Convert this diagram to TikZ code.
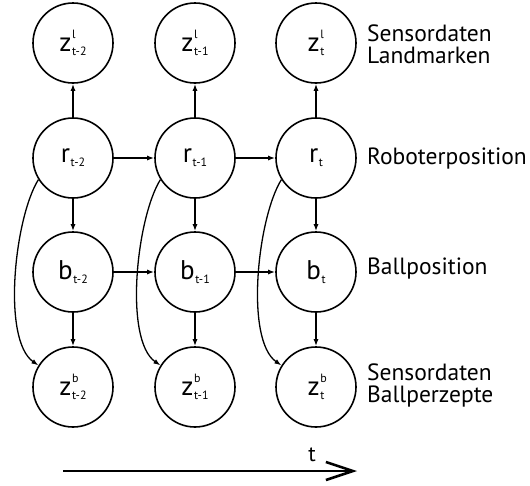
\documentclass[tikz,border=0pt]{standalone}
\usepackage{fontspec}
\setmainfont{PT Sans}
\usetikzlibrary{arrows.meta}
% small index font and a variable with raised/lowered indices
\newcommand\idxfont{\fontsize{12}{12}\selectfont}
\newcommand\nv[3]{#1\kern0.5pt\rlap{\raisebox{13pt}{\idxfont #2}}\raisebox{-4pt}{\idxfont #3}}
\begin{document}
\begin{tikzpicture}[x=1pt,y=1pt,
  var/.style={circle,draw,line width=1.6pt,minimum size=80pt,inner sep=0pt,
    font=\fontsize{27}{27}\selectfont},
  dep/.style={-{Latex[length=7pt,width=5pt]},line width=1.4pt},
  side/.style={-{Latex[length=7pt,width=5pt]},line width=1.3pt},
  lab/.style={anchor=west,align=left,inner sep=0pt,
    font=\fontsize{23.5}{22}\selectfont}]
\useasboundingbox (0,0) rectangle (530,-485);

% landmark observations
\node[var] (zl1) at (73,-43)  {\nv{z}{l}{t-2}};
\node[var] (zl2) at (195,-43) {\nv{z}{l}{t-1}};
\node[var] (zl3) at (316,-43) {\nv{z}{l}{t}};
% robot position
\node[var] (r1) at (73,-158)  {\nv{r}{}{t-2}};
\node[var] (r2) at (195,-158) {\nv{r}{}{t-1}};
\node[var] (r3) at (316,-158) {\nv{r}{}{t}};
% ball position
\node[var] (b1) at (73,-272)  {\nv{b}{}{t-2}};
\node[var] (b2) at (195,-272) {\nv{b}{}{t-1}};
\node[var] (b3) at (316,-272) {\nv{b}{}{t}};
% ball percepts
\node[var] (zb1) at (73,-387)  {\nv{z}{b}{t-2}};
\node[var] (zb2) at (195,-387) {\nv{z}{b}{t-1}};
\node[var] (zb3) at (316,-387) {\nv{z}{b}{t}};

% row labels
\node[lab] (lzl) at (367,-44)  {Sensordaten\\Landmarken};
\node[lab] (lr)  at (367,-159) {Roboterposition};
\node[lab] (lb)  at (367,-269) {Ballposition};
\node[lab] (lzb) at (367,-385) {Sensordaten\\Ballperzepte};

% dependencies within a time slice
\foreach \i in {1,2,3}{
  \draw[dep] (r\i) -- (zl\i);
  \draw[dep] (r\i) -- (b\i);
  \draw[dep] (b\i) -- (zb\i);
  \draw[side] (r\i.212) to[out=238,in=145,looseness=.62] (zb\i.148);
}
% transitions between time slices
\draw[dep] (r1) -- (r2);
\draw[dep] (r2) -- (r3);
\draw[dep] (b1) -- (b2);
\draw[dep] (b2) -- (b3);

% time axis
\coordinate (ts) at (63,-471);
\coordinate (te) at (357,-471);
\draw[line width=2.6pt,-{Straight Barb[length=27pt,width=18pt]}] (ts) -- (te);
\node[font=\fontsize{22}{22}\selectfont,inner sep=0pt] (tl) at (312,-455) {t};
\end{tikzpicture}
\end{document}
